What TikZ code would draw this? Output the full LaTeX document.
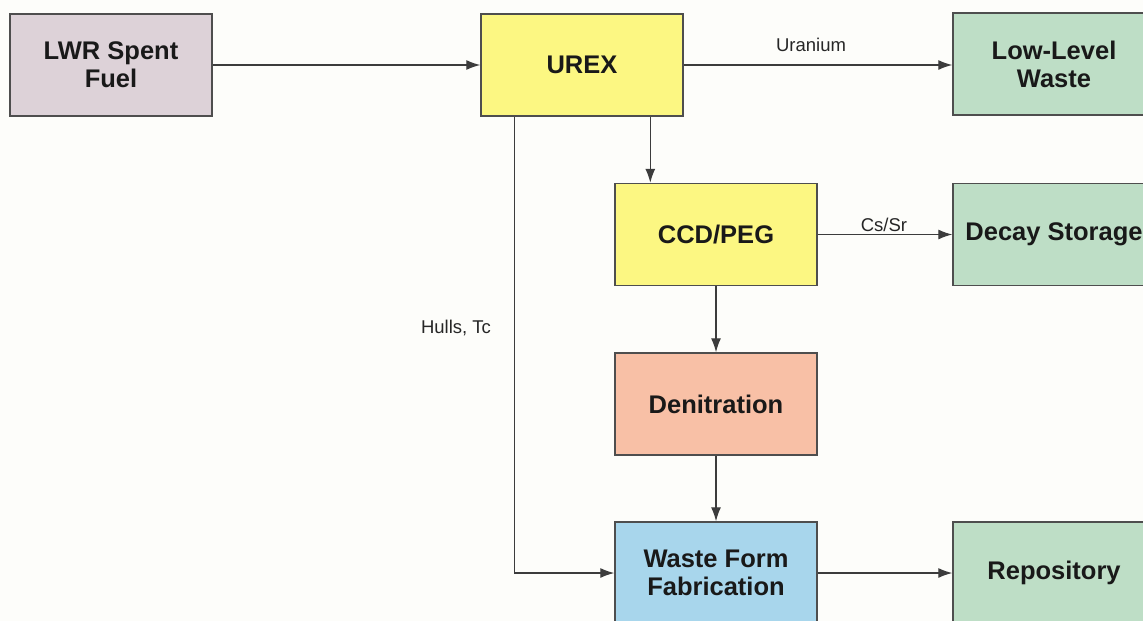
\documentclass[tikz,border=0pt]{standalone}
\usepackage{fontspec}
\setmainfont{Liberation Sans}
\usetikzlibrary{arrows.meta}
\definecolor{bgc}{HTML}{FDFDFA}
\definecolor{lwrc}{HTML}{DDD2D8}
\definecolor{yelc}{HTML}{FCF782}
\definecolor{grnc}{HTML}{BEDEC6}
\definecolor{salc}{HTML}{F8C0A6}
\definecolor{bluc}{HTML}{A8D6EC}
\definecolor{edgec}{HTML}{4E4E4E}
\definecolor{linec}{HTML}{3C3C3C}
\tikzset{
  procbox/.style={draw=edgec, line width=1.4pt, minimum width=202pt, minimum height=102pt,
    inner sep=0pt, align=center, text=black!90, font=\bfseries\fontsize{25.5}{28}\selectfont},
  conn/.style={draw=linec, line width=1.3pt, -{Latex[length=14pt,width=10pt]}},
  flowlabel/.style={font=\fontsize{18.5}{20}\selectfont, text=black!85, inner sep=0pt}
}
\begin{document}
\begin{tikzpicture}[x=1pt,y=-1pt]
\useasboundingbox (0,0) rectangle (1143,621);
\clip (0,0) rectangle (1143,621);
\fill[bgc] (0,0) rectangle (1143,621);

\node[procbox, fill=lwrc] (lwr) at (111,65) {LWR Spent\\Fuel};
\node[procbox, fill=yelc] (urex) at (582,65) {UREX};
\node[procbox, fill=grnc] (llw) at (1054,64) {Low-Level\\Waste};
\node[procbox, fill=yelc] (ccd) at (716,234.5) {CCD/PEG};
\node[procbox, fill=grnc] (decay) at (1054,234.5) {Decay Storage};
\node[procbox, fill=salc] (denit) at (716,404) {Denitration};
\node[procbox, fill=bluc] (wff) at (716,573) {Waste Form\\Fabrication};
\node[procbox, fill=grnc] (repo) at (1054,573) {Repository};

\draw[conn] (lwr) -- (urex);
\draw[conn] (urex.east) -- (llw.west |- urex.east);
\node[flowlabel] (lu) at (811,45) {Uranium};
\draw[conn] ([xshift=36pt]ccd.north west |- urex.south) -- ([xshift=36pt]ccd.north west);
\draw[conn] (ccd) -- (decay);
\node[flowlabel] (lcs) at (884,225) {Cs/Sr};
\draw[conn] (ccd) -- (denit);
\draw[conn] (denit) -- (wff);
\draw[conn] (wff) -- (repo);
\draw[conn] ([xshift=34pt]urex.south west) |- (wff.west);
\node[flowlabel] (lh) at (456,328) {Hulls, Tc};
\end{tikzpicture}
\end{document}
